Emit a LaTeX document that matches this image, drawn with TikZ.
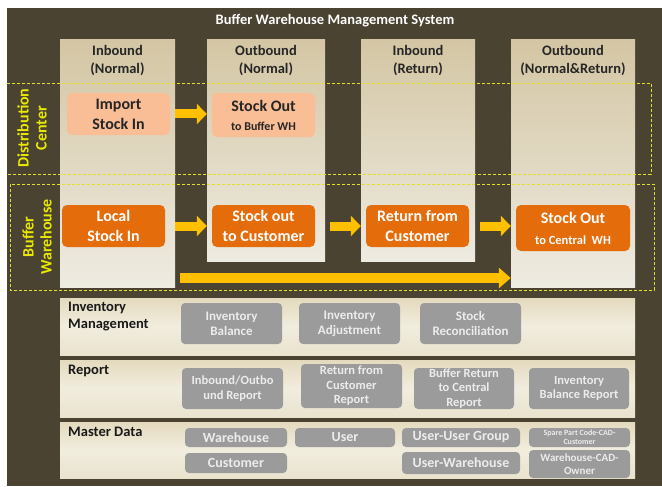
\documentclass[tikz,border=0pt]{standalone}
\usepackage{fontspec}
\setmainfont{Carlito}
\usetikzlibrary{arrows.meta}
\definecolor{bg}{RGB}{74,67,49}
\definecolor{coltop}{RGB}{212,198,164}
\definecolor{colbot}{RGB}{238,235,225}
\definecolor{peach}{RGB}{250,190,150}
\definecolor{orng}{RGB}{228,108,10}
\definecolor{grayb}{RGB}{155,155,155}
\definecolor{graytxt}{RGB}{236,236,236}
\definecolor{dashy}{RGB}{225,225,40}
\definecolor{ylab}{RGB}{232,232,0}
\definecolor{arrowy}{RGB}{255,192,0}
\definecolor{paneltop}{RGB}{228,218,190}
\definecolor{panelmid}{RGB}{241,237,222}
\definecolor{panelbot}{RGB}{233,227,206}
\begin{document}
\begin{tikzpicture}[x=1pt,y=-1pt,
  colbox/.style={draw=none,top color=coltop,bottom color=colbot,inner sep=0pt},
  hdr/.style={font=\fontsize{14.5}{18}\selectfont\bfseries,text=black!85,align=center,inner sep=0pt},
  peachbox/.style={fill=peach,rounded corners=5pt,inner sep=0pt,align=center,text=black!85},
  orangebox/.style={fill=orng,rounded corners=5pt,inner sep=0pt,align=center,text=white,font=\fontsize{16}{20}\selectfont\bfseries},
  panel/.style={top color=paneltop,bottom color=panelbot,middle color=panelmid,inner sep=0pt,minimum width=575pt},
  plabel/.style={font=\fontsize{14.5}{16.5}\selectfont\bfseries,text=black!90,align=left,anchor=north west,inner sep=0pt},
  graybox/.style={fill=grayb,rounded corners=4pt,inner sep=0pt,align=center,text=graytxt},
  barrow/.style={draw=arrowy,line width=9pt,-{Triangle[width=20pt,length=10pt]}},
  dashr/.style={draw=dashy,line width=0.9pt,dash pattern=on 3pt off 2pt},
  rotlab/.style={rotate=90,text=ylab,font=\fontsize{16}{18}\selectfont\bfseries,align=center,inner sep=0pt}
]
\useasboundingbox (0,0) rectangle (662,487);
\fill[white] (0,0) rectangle (662,487);
\fill[bg] (7,8) rectangle (662,486);

% title
\node[font=\fontsize{14.5}{16}\selectfont\bfseries,text=white] (title) at (335,21) {Buffer Warehouse Management System};

% columns
\node[colbox,minimum width=115pt,minimum height=247pt] (col1) at (117.5,163.5) {};
\node[colbox,minimum width=118pt,minimum height=221pt] (col2) at (266,150.5) {};
\node[colbox,minimum width=114pt,minimum height=221pt] (col3) at (418,150.5) {};
\node[colbox,minimum width=124pt,minimum height=247pt] (col4) at (573,163.5) {};

\node[hdr] (h1) at (117.5,61) {Inbound\\(Normal)};
\node[hdr] (h2) at (266,61) {Outbound\\(Normal)};
\node[hdr] (h3) at (418,61) {Inbound\\(Return)};
\node[hdr] (h4) at (573,61) {Outbound\\(Normal\&Return)};

% dashed groups
\draw[dashr] (7,83) -- (651,83) -- (651,174) -- (7,174);
\draw[dashr] (10,184) rectangle (654,290);
\node[rotlab] (dc) at (32,128) {Distribution\\Center};
\node[rotlab] (bw) at (37,237) {Buffer\\Warehouse};

% distribution center boxes
\node[peachbox,minimum width=103pt,minimum height=42pt,font=\fontsize{16}{20}\selectfont\bfseries] (imp) at (118.5,114) {Import\\Stock In};
\node[peachbox,minimum width=103pt,minimum height=44pt,font=\fontsize{12}{19}\selectfont\bfseries] (sob) at (263.5,115) {{\fontsize{16}{19}\selectfont Stock Out}\\to Buffer WH};

% buffer warehouse boxes
\node[orangebox,minimum width=103pt,minimum height=42pt] (loc) at (113.5,226) {Local\\Stock In};
\node[orangebox,minimum width=103pt,minimum height=42pt] (soc) at (263.5,226) {Stock out\\to Customer};
\node[orangebox,minimum width=103pt,minimum height=42pt] (ret) at (417.5,226) {Return from\\Customer};
\node[orangebox,minimum width=114pt,minimum height=46pt,font=\fontsize{12.5}{21}\selectfont\bfseries] (sow) at (573,228) {{\fontsize{16}{21}\selectfont Stock Out}\\to Central\ \ WH};

% arrows
\draw[barrow] (col1.east |- imp) -- (col2.west |- imp);
\draw[barrow] (col1.east |- loc) -- (col2.west |- loc);
\draw[barrow] ([xshift=5pt]col2.east |- soc) -- (col3.west |- soc);
\draw[barrow] ([xshift=5pt]col3.east |- ret) -- (col4.west |- ret);
\coordinate (ls) at (180,278);
\draw[draw=arrowy,line width=10pt,-{Triangle[width=20pt,length=12pt]}] (ls) -- (col4.west |- ls);

% panels
\node[panel,minimum height=57pt] (p1) at (347.5,326.5) {};
\node[panel,minimum height=57pt] (p2) at (347.5,388.5) {};
\node[panel,minimum height=56pt] (p3) at (347.5,450) {};

\node[plabel] (l1) at (68,302) {Inventory\\Management};
\node[plabel] (l2) at (68,365) {Report};
\node[plabel] (l3) at (68,427) {Master Data};

% inventory management
\begin{scope}[every node/.append style={font=\fontsize{13}{15}\selectfont\bfseries}]
\node[graybox,minimum width=101pt,minimum height=41pt] (g11) at (231.5,323.5) {Inventory\\Balance};
\node[graybox,minimum width=101pt,minimum height=41pt] (g12) at (349.5,323.5) {Inventory\\Adjustment};
\node[graybox,minimum width=101pt,minimum height=41pt] (g13) at (470.5,323.5) {Stock\\Reconciliation};
\end{scope}

% report
\begin{scope}[every node/.append style={font=\fontsize{12.5}{14.5}\selectfont\bfseries}]
\node[graybox,minimum width=101pt,minimum height=41pt] (g21) at (232.5,388.5) {Inbound/Outbo\\und Report};
\node[graybox,minimum width=101pt,minimum height=44pt] (g22) at (351.5,386) {Return from\\Customer\\Report};
\node[graybox,minimum width=100pt,minimum height=41pt] (g23) at (464,388.5) {Buffer Return\\to Central\\Report};
\node[graybox,minimum width=100pt,minimum height=41pt] (g24) at (579,388.5) {Inventory\\Balance Report};
\end{scope}

% master data
\begin{scope}[every node/.append style={font=\fontsize{14}{16}\selectfont\bfseries}]
\node[graybox,minimum width=102pt,minimum height=19pt] (g31) at (236,437.5) {Warehouse};
\node[graybox,minimum width=102pt,minimum height=20pt] (g32) at (236,463) {Customer};
\node[graybox,minimum width=100pt,minimum height=19pt] (g33) at (345,437.5) {User};
\node[graybox,minimum width=118pt,minimum height=19pt] (g34) at (461,437.5) {User-User Group};
\node[graybox,minimum width=118pt,minimum height=22pt] (g35) at (461,463) {User-Warehouse};
\end{scope}
\node[graybox,minimum width=101pt,minimum height=19pt,font=\fontsize{8}{9}\selectfont\bfseries] (g36) at (579.5,437.5) {Spare Part Code-CAD-\\Customer};
\node[graybox,minimum width=101pt,minimum height=28pt,font=\fontsize{11}{12.5}\selectfont\bfseries] (g37) at (579.5,464) {Warehouse-CAD-\\Owner};
\end{tikzpicture}
\end{document}
